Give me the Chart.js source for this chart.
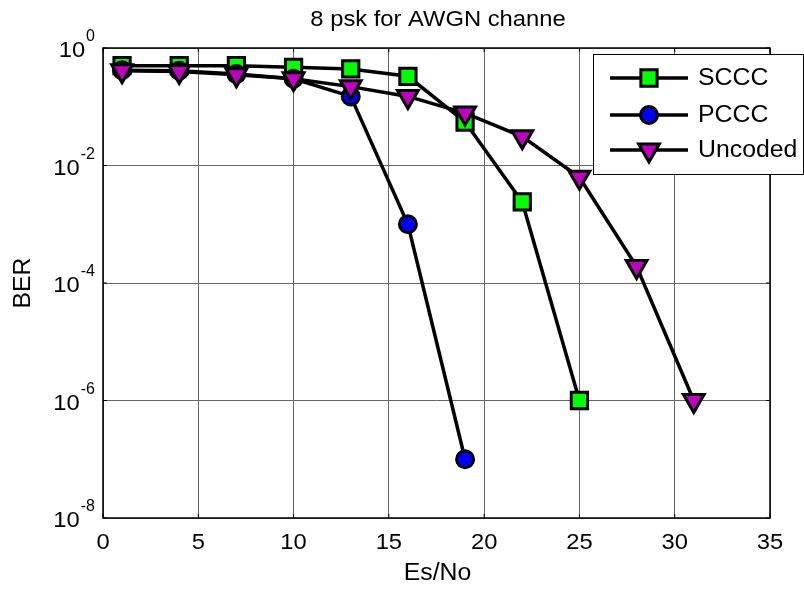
<!DOCTYPE html>
<html>
<head>
<meta charset="utf-8">
<script src="https://cdn.jsdelivr.net/npm/chart.js@4/dist/chart.umd.min.js"></script>
<style>
html, body { margin: 0; padding: 0; background: #fff; }
#wrap { width: 804px; height: 592px; }
</style>
</head>
<body>
<div id="wrap"><canvas id="canvass" width="804" height="592"></canvas></div>
<script>
// Es/No points
var esnoSccc = [1, 4, 7, 10, 13, 16, 19, 22, 25];
var berSccc = [0.50, 0.50, 0.50, 0.47, 0.44, 0.33, 0.055, 0.0024, 1e-6];
var esnoPccc = [1, 4, 7, 10, 13, 16, 19];
var berPccc = [0.42, 0.41, 0.36, 0.30, 0.15, 1e-3, 1e-7];
var esnoUncoded = [1, 4, 7, 10, 13, 16, 19, 22, 25, 28, 31];
var berUncoded = [0.41, 0.40, 0.35, 0.30, 0.22, 0.15, 0.078, 0.031, 0.0063, 1.9e-4, 1e-6];
var xTicks = [0, 5, 10, 15, 20, 25, 30, 35];
var yExps = [0, -2, -4, -6, -8];

var FONT = '"Liberation Sans", Arial, sans-serif';

function pts(xs, ys) {
    var out = [];
    for (var i = 0; i < xs.length; i++) out.push({x: xs[i], y: ys[i]});
    return out;
}

// text slightly wider than liberation, like the matlab export
function wideText(c, txt, x, y, sx) {
    c.save();
    c.translate(x, y);
    c.scale(sx, 1);
    c.fillText(txt, 0, 0);
    c.restore();
}

var data = {
    datasets: [{
        label: 'SCCC',
        data: pts(esnoSccc, berSccc),
        borderColor: '#000', borderWidth: 3.5,
        pointStyle: 'rect', pointRadius: 11.5, pointBorderWidth: 3,
        pointBackgroundColor: '#00ff00', pointBorderColor: '#000',
        order: 2
    }, {
        label: 'PCCC',
        data: pts(esnoPccc, berPccc),
        borderColor: '#000', borderWidth: 3.5,
        pointStyle: 'circle', pointRadius: 8.5, pointBorderWidth: 3,
        pointBackgroundColor: '#0000ff', pointBorderColor: '#000',
        order: 1
    }, {
        label: 'Uncoded',
        data: pts(esnoUncoded, berUncoded),
        borderColor: '#000', borderWidth: 3.5,
        pointStyle: 'triangle', pointRotation: 180, pointRadius: 12, pointBorderWidth: 3,
        pointBackgroundColor: '#bf00bf', pointBorderColor: '#000',
        order: 0
    }]
};

// frame, tick labels, titles and legend drawn by hand (matlab look)
var matlabDeco = {
    id: 'matlabDeco',
    afterDraw: function (chart) {
        var c = chart.ctx, a = chart.chartArea;
        var xs = chart.scales.x, ys = chart.scales.y;
        var SX = 1.08;
        c.save();
        c.strokeStyle = '#000';
        c.lineWidth = 1.5;
        c.strokeRect(a.left, a.top, a.right - a.left, a.bottom - a.top);

        // small inward ticks
        c.lineWidth = 1;
        xTicks.forEach(function (t) {
            var px = xs.getPixelForValue(t);
            c.beginPath();
            c.moveTo(px, a.bottom); c.lineTo(px, a.bottom - 4);
            c.moveTo(px, a.top); c.lineTo(px, a.top + 4);
            c.stroke();
        });
        yExps.forEach(function (e) {
            var py = ys.getPixelForValue(Math.pow(10, e));
            c.beginPath();
            c.moveTo(a.left, py); c.lineTo(a.left + 4, py);
            c.moveTo(a.right, py); c.lineTo(a.right - 4, py);
            c.stroke();
        });

        c.fillStyle = '#000';
        // x tick labels
        c.font = '22px ' + FONT;
        c.textAlign = 'center';
        c.textBaseline = 'alphabetic';
        xTicks.forEach(function (t) {
            wideText(c, String(t), xs.getPixelForValue(t), a.bottom + 31, SX);
        });
        // y tick labels 10^e
        yExps.forEach(function (e) {
            var py = ys.getPixelForValue(Math.pow(10, e));
            var ex = String(e);
            c.font = '16px ' + FONT;
            c.textAlign = 'left';
            var ew = c.measureText(ex).width;
            var exX = a.left - 8 - ew;
            c.fillText(ex, exX, py - 7);
            c.font = '22px ' + FONT;
            c.textAlign = 'right';
            wideText(c, '10', exX - 1, py + 9, SX);
        });
        // axis titles
        c.font = '23px ' + FONT;
        c.textAlign = 'center';
        c.textBaseline = 'middle';
        wideText(c, 'Es/No', (a.left + a.right) / 2 + 1, 574, SX);
        c.save();
        c.translate(24, (a.top + a.bottom) / 2);
        c.rotate(-Math.PI / 2);
        c.scale(SX, 1);
        c.fillText('BER', 0, 0);
        c.restore();
        c.font = '22px ' + FONT;
        wideText(c, '8 psk for AWGN channe', 438, 20, SX);

        // legend box
        var lx = 593, ly = 54, lw = 210, lh = 120;
        c.fillStyle = '#fff';
        c.fillRect(lx, ly, lw, lh);
        c.strokeStyle = '#000';
        c.lineWidth = 1;
        c.strokeRect(lx + 0.5, ly + 0.5, lw, lh);
        var rows = [78, 115, 150];
        chart.data.datasets.forEach(function (ds, i) {
            var yy = rows[i];
            c.strokeStyle = '#000';
            c.lineWidth = ds.borderWidth;
            c.beginPath();
            c.moveTo(610, yy); c.lineTo(688, yy);
            c.stroke();
            c.fillStyle = ds.pointBackgroundColor;
            c.strokeStyle = '#000';
            c.lineWidth = ds.pointBorderWidth;
            Chart.helpers.drawPoint(c, {
                pointStyle: ds.pointStyle, radius: ds.pointRadius,
                rotation: ds.pointRotation || 0, borderWidth: ds.pointBorderWidth
            }, 649, yy);
            c.fillStyle = '#000';
            c.font = '23px ' + FONT;
            c.textAlign = 'left';
            c.textBaseline = 'middle';
            wideText(c, ds.label, 698, yy + 1, SX);
        });
        c.restore();
    }
};

try {
    var ctx = document.getElementById('canvass').getContext('2d');
    var myChart = new Chart(ctx, {
        type: 'line',
        data: data,
        plugins: [matlabDeco],
        options: {
            responsive: false,
            animation: false,
            layout: { padding: { left: 103, right: 34, top: 48, bottom: 74 } },
            plugins: { legend: { display: false }, title: { display: false }, tooltip: { enabled: false } },
            scales: {
                x: {
                    type: 'linear', min: 0, max: 35,
                    afterBuildTicks: function (s) { s.ticks = xTicks.map(function (v) { return {value: v}; }); },
                    ticks: { display: false },
                    grid: { color: '#666', lineWidth: 1, borderDash: [1, 2], drawTicks: false },
                    border: { display: false }
                },
                y: {
                    type: 'logarithmic', min: 1e-8, max: 1,
                    afterBuildTicks: function (s) { s.ticks = yExps.map(function (e) { return {value: Math.pow(10, e)}; }); },
                    ticks: { display: false },
                    grid: { color: '#666', lineWidth: 1, borderDash: [1, 2], drawTicks: false },
                    border: { display: false }
                }
            }
        }
    });
} catch (e) {
    console.log('We have encountered an error: ' + e);
}
</script>
</body>
</html>
